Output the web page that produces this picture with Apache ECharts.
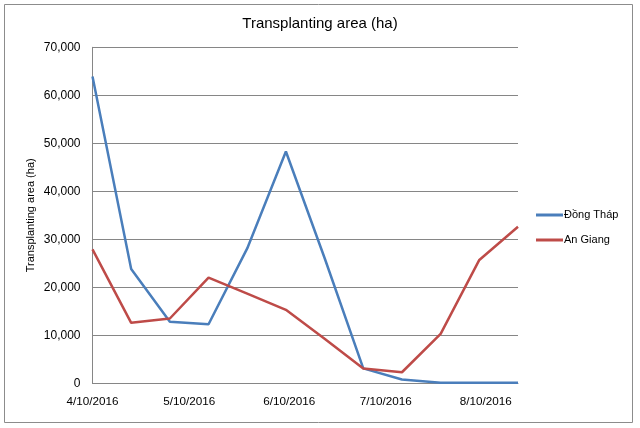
<!DOCTYPE html>
<html>
<head>
<meta charset="utf-8">
<script src="https://cdn.jsdelivr.net/npm/echarts@6/dist/echarts.min.js"></script>
<style>
html,body{margin:0;padding:0;background:#fff;}
#c{width:640px;height:428px;}
</style>
</head>
<body>
<div id="c"></div>
<script>
var dates = ['2016-04-10','2016-04-22','2016-05-04','2016-05-16','2016-05-28','2016-06-09','2016-06-21','2016-07-03','2016-07-15','2016-07-27','2016-08-08','2016-08-20'];
var dongThap = [63900, 23800, 12800, 12300, 28100, 48300, 26100, 3100, 800, 100, 100, 100];
var anGiang = [27900, 12600, 13500, 22000, 18700, 15300, 9300, 3100, 2300, 10300, 25700, 32600];
var tickDates = ['2016-04-10','2016-05-10','2016-06-10','2016-07-10','2016-08-10'];
var seriesNames = ['Đồng Tháp', 'An Giang'];
var titleText = 'Transplanting area (ha)';
var yAxisTitle = 'Transplanting area (ha)';

function ts(s){ var p = s.split('-'); return Date.UTC(+p[0], +p[1]-1, +p[2]); }
function fmtDate(v){ var d = new Date(v); return (d.getUTCMonth()+1) + '/' + d.getUTCDate() + '/' + d.getUTCFullYear(); }
function fmtNum(v){ return String(v).replace(/\B(?=(\d{3})+(?!\d))/g, ','); }

var xs = dates.map(ts);
var ticks = tickDates.map(ts);
function pairs(vals){ return vals.map(function(v,i){ return [xs[i], v]; }); }

var font = 'Liberation Sans, Arial, sans-serif';
var chart = echarts.init(document.getElementById('c'));
chart.setOption({
  animation: false,
  backgroundColor: '#ffffff',
  textStyle: { fontFamily: font },
  graphic: [{
    type: 'rect', shape: { x: 4.5, y: 4.5, width: 628, height: 418 },
    style: { fill: 'none', stroke: '#8c8c8c', lineWidth: 1 }, silent: true, z: -1
  }],
  title: {
    text: titleText, left: 'center', top: 11,
    textStyle: { fontFamily: font, fontSize: 15, fontWeight: 'normal', color: '#000' }
  },
  legend: {
    orient: 'vertical', left: 536, top: 208, padding: 0,
    icon: 'rect', itemWidth: 27, itemHeight: 3, itemGap: 11,
    textStyle: { fontFamily: font, fontSize: 11, color: '#000', lineHeight: 14, padding: [0, 0, 0, -4] },
    data: seriesNames
  },
  grid: { left: 92.5, right: 122, top: 47.3, bottom: 44.7 },
  xAxis: {
    type: 'value', min: xs[0], max: xs[xs.length-1],
    axisLine: { show: true, lineStyle: { color: '#868686', width: 1 } },
    axisTick: { show: false },
    splitLine: { show: false },
    axisLabel: {
      customValues: ticks, formatter: function(v){ return fmtDate(v); },
      fontFamily: font, fontSize: 11.7, color: '#000', margin: 12, showMinLabel: true, showMaxLabel: true
    }
  },
  yAxis: {
    type: 'value', min: 0, max: 70000, interval: 10000,
    name: yAxisTitle, nameLocation: 'middle', nameGap: 56, nameMoveOverlap: false,
    nameTextStyle: { fontFamily: font, fontSize: 11, color: '#000' },
    axisLine: { show: true, lineStyle: { color: '#868686', width: 1 } },
    axisTick: { show: false },
    splitLine: { show: true, lineStyle: { color: '#868686', width: 1 } },
    axisLabel: { formatter: function(v){ return fmtNum(v); }, fontFamily: font, fontSize: 12, color: '#000', margin: 12 }
  },
  series: [
    { name: seriesNames[0], type: 'line', data: pairs(dongThap), symbol: 'none',
      lineStyle: { color: '#4A7EBB', width: 2.5 }, itemStyle: { color: '#4A7EBB' } },
    { name: seriesNames[1], type: 'line', data: pairs(anGiang), symbol: 'none',
      lineStyle: { color: '#BE4B48', width: 2.5 }, itemStyle: { color: '#BE4B48' } }
  ]
});
</script>
</body>
</html>
